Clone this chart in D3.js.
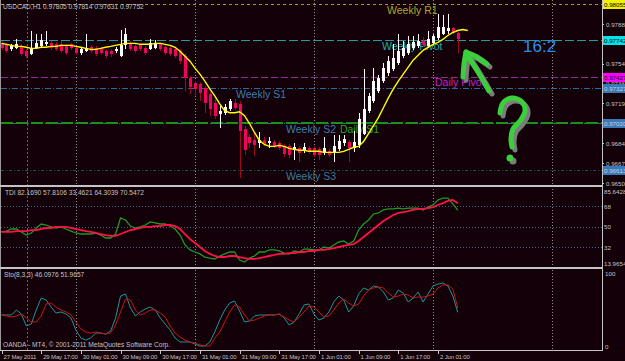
<!DOCTYPE html>
<html><head><meta charset="utf-8">
<script src="https://cdn.jsdelivr.net/npm/d3@7"></script>
<style>html,body{margin:0;padding:0;background:#130008;}svg{display:block;}text{font-family:"Liberation Sans",Arial,sans-serif;}</style>
</head><body>
<svg id="chart" width="625" height="361"></svg>
<script>
// ---------- DATA ----------
const symbolTitle = "USDCAD,H1  0.97805 0.97814 0.97631 0.97752";
const tdiTitle = "TDI 82.1690 57.8106 33.4621 64.3039 70.5472";
const stoTitle = "Sto(8,3,3) 46.0976 51.9657";
const copyright = "OANDA - MT4, \u00a9 2001-2011 MetaQuotes Software Corp.";

const open = [.97716,.97699,.97664,.97673,.97690,.97647,.97621,.97673,.97690,.97708,
.97716,.97708,.97708,.97690,.97708,.97673,.97630,.97647,.97682,.97673,
.97664,.97647,.97647,.97647,.97604,.97699,.97708,.97690,.97699,.97673,
.97664,.97673,.97708,.97682,.97673,.97664,.97647,.97604,.97414,.97371,
.97363,.97328,.97276,.97199,.97104,.97112,.97147,.97199,.97190,.96974,
.96897,.96871,.96845,.96871,.96845,.96854,.96845,.96819,.96819,.96785,
.96802,.96776,.96802,.96802,.96793,.96759,.96776,.96767,.96793,.96845,
.96854,.96802,.96828,.96931,.97130,.97216,.97302,.97388,.97457,.97492,
.97544,.97604,.97630,.97673,.97690,.97733,.97690,.97716,.97759,.97802,
.97820,.97846,.97805];
const high = [.97733,.97716,.97708,.97751,.97708,.97664,.97820,.97794,.97802,.97820,
.97733,.97725,.97733,.97708,.97716,.97690,.97682,.97794,.97699,.97690,
.97682,.97664,.97664,.97682,.97837,.97846,.97733,.97708,.97716,.97690,
.97751,.97742,.97725,.97699,.97690,.97682,.97664,.97630,.97432,.97388,
.97380,.97345,.97302,.97233,.97173,.97190,.97233,.97233,.97216,.97000,
.96931,.96940,.96940,.96897,.96897,.96871,.96862,.96836,.96836,.96845,
.96819,.96845,.96819,.96819,.96811,.96897,.96793,.96914,.96914,.96914,
.96871,.96957,.97112,.97492,.97285,.97501,.97440,.97544,.97604,.97708,
.97794,.97733,.97777,.97777,.97794,.97768,.97820,.97802,.97975,.97966,
.97975,.97863,.97814];
const low = [.97656,.97630,.97647,.97664,.97604,.97587,.97613,.97664,.97682,.97690,
.97656,.97647,.97630,.97613,.97656,.97613,.97613,.97639,.97630,.97604,
.97613,.97587,.97595,.97630,.97595,.97664,.97647,.97630,.97647,.97613,
.97656,.97664,.97647,.97613,.97604,.97587,.97535,.97302,.97276,.97259,
.97216,.97112,.97087,.97061,.96983,.97095,.97130,.97138,.96543,.96742,
.96802,.96733,.96802,.96819,.96802,.96802,.96785,.96724,.96716,.96698,
.96681,.96759,.96750,.96724,.96698,.96742,.96724,.96681,.96776,.96819,
.96681,.96767,.96802,.96914,.97112,.97199,.97285,.97371,.97432,.97475,
.97526,.97587,.97613,.97656,.97673,.97682,.97673,.97699,.97742,.97785,
.97802,.97794,.97631];
const close = [.97673,.97647,.97690,.97708,.97621,.97604,.97673,.97716,.97742,.97725,
.97673,.97664,.97647,.97630,.97673,.97630,.97664,.97673,.97647,.97621,
.97630,.97604,.97621,.97664,.97699,.97794,.97664,.97647,.97664,.97630,
.97716,.97716,.97664,.97630,.97621,.97604,.97561,.97414,.97337,.97319,
.97285,.97199,.97147,.97087,.97130,.97164,.97216,.97156,.96957,.96785,
.96845,.96828,.96871,.96836,.96862,.96819,.96802,.96750,.96742,.96811,
.96759,.96811,.96767,.96742,.96742,.96802,.96742,.96819,.96862,.96880,
.96802,.96854,.97061,.97147,.97259,.97388,.97414,.97501,.97561,.97587,
.97647,.97673,.97708,.97725,.97733,.97699,.97751,.97777,.97863,.97863,
.97854,.97811,.97752];
// yellow moving average (extends 2 bars beyond last candle)
const maValues = [.97716,.97708,.97699,.97690,.97690,.97682,.97673,.97673,.97682,.97682,
.97690,.97690,.97699,.97699,.97699,.97690,.97682,.97673,.97664,.97664,
.97673,.97682,.97690,.97699,.97708,.97716,.97716,.97716,.97708,.97708,
.97708,.97716,.97716,.97708,.97699,.97682,.97647,.97604,.97561,.97501,
.97449,.97388,.97319,.97259,.97190,.97130,.97112,.97112,.97121,.97087,
.97018,.96940,.96871,.96836,.96819,.96819,.96828,.96819,.96802,.96793,
.96785,.96785,.96776,.96776,.96776,.96767,.96767,.96767,.96767,.96776,
.96793,.96811,.96819,.96862,.96931,.97000,.97069,.97156,.97242,.97319,
.97388,.97449,.97509,.97570,.97613,.97656,.97682,.97708,.97725,.97751,
.97785,.97811,.97828,.97837,.97828];
// pivot levels
const levelNames = ["Weekly R1","Weekly Pivot","Daily Pivot","Weekly S1","Weekly S2","Daily S1","Weekly S3"];
const levelValues = [0.98055,0.97742,0.97427,0.97327,0.97020,0.97020,0.96613];
const priceTicks = ["0.97885","0.97540","0.97365","0.97195","0.96845","0.96670","0.96500"];
// TDI
const tdiGreen = [45.2,46.0,47.8,47.8,45.2,42.5,44.3,48.7,52.2,51.3,
49.6,48.7,49.6,47.8,46.0,44.3,43.4,43.4,43.4,44.3,
42.5,39.9,39.9,43.4,57.5,55.7,50.4,48.7,49.6,51.3,
54.0,53.1,52.2,52.2,50.4,47.8,42.5,33.8,29.4,27.6,
25.9,23.2,22.3,21.5,24.1,25.9,27.6,27.6,20.6,18.8,
22.3,24.1,27.6,27.6,29.4,29.4,28.5,26.7,25.9,28.5,
27.6,30.2,30.2,29.4,29.4,32.0,31.1,33.8,36.4,37.3,
34.6,37.3,46.9,52.2,55.7,61.0,61.9,64.5,65.4,65.4,
66.2,65.4,66.2,66.2,66.2,64.5,67.1,68.9,73.3,75.0,
75.0,69.8,64.3];
const tdiRed = [45.2,45.2,45.2,46.0,46.0,46.0,46.9,46.9,47.8,48.7,
48.7,49.6,49.6,49.6,48.7,47.8,46.9,46.0,45.2,44.3,
43.4,42.5,41.7,41.7,43.4,45.2,46.9,47.8,48.7,49.6,
49.6,50.4,50.4,51.3,51.3,50.4,47.8,43.4,39.0,35.5,
32.0,28.5,25.9,24.1,23.2,23.2,24.1,24.1,23.2,22.3,
21.5,21.5,22.3,23.2,24.1,25.0,25.9,25.9,26.7,26.7,
27.6,27.6,28.5,28.5,29.4,29.4,30.2,31.1,32.0,32.9,
33.8,34.6,37.3,40.8,44.3,47.8,51.3,54.8,57.5,60.1,
61.9,62.7,63.6,64.5,65.4,65.4,66.2,67.1,68.9,70.6,
72.4,73.3,70.5];
const tdiLevels = [68,50,32];
const tdiRange = ["85.6428","13.9654"];
// Stochastic
const stoMain = [42.5,42.5,42.5,49.3,43.8,27.4,30.1,49.3,65.8,63.0,
53.4,45.2,46.6,43.8,38.4,21.9,11.0,8.2,11.0,17.8,
17.8,16.4,20.5,38.4,68.5,71.2,52.1,41.1,46.6,50.7,
53.4,49.3,38.4,30.1,21.9,11.0,5.5,5.5,5.5,2.7,
0.0,0.0,5.5,19.2,35.6,49.3,58.9,61.6,47.9,32.9,
34.2,41.1,42.5,42.5,42.5,42.5,43.8,38.4,28.8,32.9,
43.8,56.2,57.5,43.8,35.6,38.4,46.6,60.3,68.5,63.0,
46.6,54.8,71.2,79.5,76.7,82.2,80.8,74.0,63.0,65.8,
76.7,72.6,60.3,65.8,74.0,60.3,71.2,82.2,84.9,86.3,
82.2,68.5,46.1];
const stoSignal = [42.5,41.1,39.7,41.1,43.8,38.4,32.9,32.9,41.1,57.5,
58.9,53.4,49.3,46.6,42.5,32.9,23.3,19.2,17.8,19.2,
17.8,16.4,17.8,28.8,46.6,64.4,63.0,49.3,42.5,45.2,
49.3,49.3,45.2,39.7,27.4,17.8,12.3,8.2,5.5,4.1,
1.4,0.0,0.0,11.0,19.2,32.9,46.6,56.2,53.4,42.5,
34.2,35.6,38.4,41.1,42.5,42.5,43.8,39.7,35.6,32.9,
39.7,46.6,54.8,53.4,46.6,39.7,41.1,49.3,58.9,64.4,
58.9,54.8,57.5,68.5,76.7,79.5,80.8,79.5,72.6,67.1,
68.5,71.2,69.9,65.8,67.1,67.1,68.5,71.2,79.5,83.6,
83.6,78.1,52.0];
const stoRange = ["100","0"];
// time axis
const timeTickIndex = [0,8,16,24,32,40,48,56,64,72,80,88];
const timeTickLabels = ["27 May 2011","29 May 17:00","30 May 01:00","30 May 09:00","30 May 17:00","31 May 01:00","31 May 09:00","31 May 17:00","1 Jun 01:00","1 Jun 09:00","1 Jun 17:00","2 Jun 01:00"];
const gridIndex = [15,39,63,87,111];
const separatorIndex = [5.2];
const annotationText = "16:2";

// ---------- LAYOUT ----------
const W = 625, H = 361, plotRight = 602;
const BG = "#130008", AXIS = "#c4c4c4";
const svg = d3.select("#chart");
svg.append("rect").attr("width", W).attr("height", H).attr("fill", BG);

const x = d3.scaleLinear().domain([0, 92]).range([1.5, 457.8]);
const yMain = d3.scaleLinear().domain([0.965, 0.965 + 183 / 11480]).range([183, 0]);
const yTdi = d3.scaleLinear().domain([32, 68]).range([247, 206]);
const ySto = d3.scaleLinear().domain([0, 100]).range([346, 273]);

const defs = svg.append("defs");
const clip = (id, y0, h) => defs.append("clipPath").attr("id", id).append("rect").attr("x", 1).attr("y", y0).attr("width", plotRight - 1).attr("height", h);
clip("cMain", 0, 184); clip("cTdi", 187, 80); clip("cSto", 269, 81);

// vertical grid
const grid = svg.append("g").attr("shape-rendering", "crispEdges");
grid.selectAll(".vg").data(gridIndex).join("line")
  .attr("x1", d => Math.round(x(d)) + 0.5).attr("x2", d => Math.round(x(d)) + 0.5)
  .attr("y1", 0).attr("y2", 350).attr("stroke", "#8e8e8e").attr("stroke-dasharray", "1,2");
grid.selectAll(".sep").data(separatorIndex).join("line")
  .attr("x1", d => Math.round(x(d)) + 0.5).attr("x2", d => Math.round(x(d)) + 0.5)
  .attr("y1", 0).attr("y2", 350).attr("stroke", "#4f704f").attr("stroke-dasharray", "2,2");

// ---------- MAIN PANEL ----------
const main = svg.append("g").attr("clip-path", "url(#cMain)");
const levelStyle = [
  {c: "#9c9c2c", t: "#a8a830", d: "3,3", w: 1, lx: 387},
  {c: "#1e9e9e", t: "#22abab", d: "9,3", w: 1, lx: 382},
  {c: "#952895", t: "#c424c4", d: "7,3", w: 1, lx: 435},
  {c: "#2a6c9c", t: "#3d7cab", d: "6,2,1,2", w: 1, lx: 236},
  {c: "#2a6c9c", t: "#3d7cab", d: "6,2,1,2", w: 1, lx: 286},
  {c: "#1a921a", t: "#22a822", d: "12,3", w: 2, lx: 340},
  {c: "#1d5656", t: "#3d7a9b", d: "3,2,1,2", w: 1, lx: 286}
];
const lv = levelValues.map((v, i) => ({v, name: levelNames[i], s: levelStyle[i]}));
main.selectAll(".lvl").data(lv).join("line")
  .attr("x1", 1).attr("x2", plotRight)
  .attr("y1", d => Math.round(yMain(d.v)) + (d.s.w === 2 ? 0 : 0.5))
  .attr("y2", d => Math.round(yMain(d.v)) + (d.s.w === 2 ? 0 : 0.5))
  .attr("stroke", d => d.s.c).attr("stroke-width", d => d.s.w).attr("stroke-dasharray", d => d.s.d)
  .attr("shape-rendering", "crispEdges");
main.selectAll(".lvlt").data(lv).join("text")
  .attr("x", d => d.s.lx).attr("y", d => yMain(d.v) + 9.5)
  .attr("fill", d => d.s.t).attr("font-size", 10.5).text(d => d.name);

// candles
const bars = d3.range(open.length).map(i => ({i, o: open[i], h: high[i], l: low[i], c: close[i], bull: close[i] >= open[i]}));
main.append("g").attr("shape-rendering", "crispEdges").selectAll("line").data(bars).join("line")
  .attr("x1", d => Math.round(x(d.i)) + 0.5).attr("x2", d => Math.round(x(d.i)) + 0.5)
  .attr("y1", d => yMain(d.h)).attr("y2", d => yMain(d.l))
  .attr("stroke", d => d.bull ? "#ffffff" : "#9c0a22");
main.append("g").attr("shape-rendering", "crispEdges").selectAll("rect").data(bars).join("rect")
  .attr("x", d => Math.round(x(d.i)) - 1).attr("width", 3)
  .attr("y", d => Math.round(yMain(Math.max(d.o, d.c))))
  .attr("height", d => Math.max(1, Math.round(yMain(Math.min(d.o, d.c))) - Math.round(yMain(Math.max(d.o, d.c)))))
  .attr("fill", d => d.bull ? "#ffffff" : "#f5005f");
// MA
main.append("path").datum(maValues)
  .attr("d", d3.line().x((d, i) => x(i)).y(d => yMain(d)))
  .attr("fill", "none").attr("stroke", "#ffff00").attr("stroke-width", 1.4);

// ---------- TDI PANEL ----------
const tdi = svg.append("g").attr("clip-path", "url(#cTdi)");
tdi.selectAll(".tl").data(tdiLevels).join("line")
  .attr("x1", 1).attr("x2", plotRight).attr("y1", d => Math.round(yTdi(d)) + 0.5).attr("y2", d => Math.round(yTdi(d)) + 0.5)
  .attr("stroke", "#3a6484").attr("stroke-dasharray", "1,2").attr("shape-rendering", "crispEdges");
tdi.append("path").datum(tdiGreen).attr("d", d3.line().x((d, i) => x(i)).y(d => yTdi(d)))
  .attr("fill", "none").attr("stroke", "#1f9a1f").attr("stroke-width", 1.3);
tdi.append("path").datum(tdiRed).attr("d", d3.line().x((d, i) => x(i)).y(d => yTdi(d)))
  .attr("fill", "none").attr("stroke", "#ff1046").attr("stroke-width", 1.8);

// ---------- STOCH PANEL ----------
const sto = svg.append("g").attr("clip-path", "url(#cSto)");
sto.append("path").datum(stoMain).attr("d", d3.line().x((d, i) => x(i)).y(d => ySto(d)))
  .attr("fill", "none").attr("stroke", "#1c9696").attr("stroke-width", 1);
sto.append("path").datum(stoSignal).attr("d", d3.line().x((d, i) => x(i)).y(d => ySto(d)))
  .attr("fill", "none").attr("stroke", "#c81414").attr("stroke-width", 1);

// ---------- FRAME ----------
const frame = svg.append("g").attr("shape-rendering", "crispEdges");
frame.append("line").attr("x1", 0.5).attr("x2", 0.5).attr("y1", 0).attr("y2", 350).attr("stroke", "#9a9a9a");
frame.append("line").attr("x1", plotRight + 0.5).attr("x2", plotRight + 0.5).attr("y1", 0).attr("y2", 351).attr("stroke", AXIS);
frame.append("rect").attr("x", 0).attr("y", 184.5).attr("width", plotRight + 1).attr("height", 2).attr("fill", AXIS);
frame.append("rect").attr("x", 0).attr("y", 266.5).attr("width", plotRight + 1).attr("height", 2).attr("fill", AXIS);
frame.append("line").attr("x1", 0).attr("x2", plotRight + 1).attr("y1", 350.5).attr("y2", 350.5).attr("stroke", AXIS);

// ---------- TEXTS ----------
const fs = 6.6;
svg.append("text").attr("x", 3).attr("y", 9).attr("fill", AXIS).attr("font-size", fs).text(symbolTitle);
svg.append("text").attr("x", 5).attr("y", 195).attr("fill", AXIS).attr("font-size", fs).text(tdiTitle);
svg.append("text").attr("x", 4).attr("y", 277).attr("fill", AXIS).attr("font-size", fs).text(stoTitle);
svg.append("text").attr("x", 3).attr("y", 347).attr("fill", AXIS).attr("font-size", fs).text(copyright);

// right price axis
const ax = svg.append("g");
ax.selectAll(".pt").data(priceTicks).join("text")
  .attr("x", 606).attr("y", d => yMain(+d) + 2.5).attr("fill", AXIS).attr("font-size", 6.2).text(d => d);
ax.selectAll(".ptm").data(priceTicks).join("rect")
  .attr("x", 603).attr("y", d => Math.round(yMain(+d))).attr("width", 1).attr("height", 1).attr("fill", AXIS);
const boxColors = ["#f0f000", "#00e4e4", "#ff00ff", "#3a78b8", null, "#3a78b8", "#3a78b8"];
const boxText = ["#000000", "#000000", "#000000", "#c8d4e0", null, "#c8d4e0", "#c8d4e0"];
const boxes = lv.map((d, i) => ({...d, bg: boxColors[i], fg: boxText[i]})).filter(d => d.bg);
ax.selectAll(".bx").data(boxes).join("rect")
  .attr("x", 603).attr("y", d => Math.round(yMain(d.v)) - 4).attr("width", 22).attr("height", 9).attr("fill", d => d.bg);
ax.selectAll(".bxt").data(boxes).join("text")
  .attr("x", 604).attr("y", d => Math.round(yMain(d.v)) + 3).attr("fill", d => d.fg).attr("font-size", 6.2)
  .text(d => d.v.toFixed(5));

// TDI axis
const tdiLab = [{t: tdiRange[0], y: 191}, ...tdiLevels.map(v => ({t: String(v), y: yTdi(v)})), {t: tdiRange[1], y: 263}];
ax.selectAll(".tdl").data(tdiLab).join("text")
  .attr("x", 604).attr("y", d => d.y + 2.5).attr("fill", AXIS).attr("font-size", 6.2).text(d => d.t);
const stoLab = [{t: stoRange[0], y: ySto(100)}, {t: stoRange[1], y: ySto(0)}];
ax.selectAll(".stl").data(stoLab).join("text")
  .attr("x", 605).attr("y", d => d.y + 2.5).attr("fill", AXIS).attr("font-size", 6.2).text(d => d.t);

// time axis
const tx = svg.append("g");
tx.selectAll("line").data(timeTickIndex).join("line")
  .attr("x1", d => Math.round(x(d)) + 0.5).attr("x2", d => Math.round(x(d)) + 0.5)
  .attr("y1", 350).attr("y2", 354).attr("stroke", AXIS).attr("shape-rendering", "crispEdges");
tx.selectAll("text").data(timeTickIndex).join("text")
  .attr("x", d => x(d) + 2).attr("y", 359).attr("fill", AXIS).attr("font-size", 6)
  .attr("letter-spacing", -0.15)
  .text((d, i) => timeTickLabels[i]);

// ---------- HAND-DRAWN ANNOTATIONS ----------
const ann = svg.append("g").attr("fill", "none").attr("stroke-linecap", "round").attr("stroke-linejoin", "round");
const curve = d3.line().curve(d3.curveCatmullRom);
const arrowParts = [
  [[463, 77], [464, 64], [466, 52]],
  [[466, 52], [477, 57], [487, 64]],
  [[467, 55], [478, 72], [489, 91]]
];
const qmark = [[500, 113], [503, 103], [512, 98], [522, 102], [525, 111], [520, 121], [513, 129], [511, 139], [512, 147]];
[[3, 3, "#7c7c7c"], [0, 0, "#3ccf3c"]].forEach(([dx, dy, col]) => {
  const gg = ann.append("g").attr("transform", `translate(${dx},${dy})`).attr("stroke", col).attr("stroke-width", 5);
  arrowParts.forEach(p => gg.append("path").attr("d", curve(p)));
  gg.append("path").attr("d", curve(qmark));
  gg.append("circle").attr("cx", 510).attr("cy", 158).attr("r", 2.5).attr("fill", col).attr("stroke-width", 2);
});
svg.append("text").attr("x", 523).attr("y", 52).attr("fill", "#2a8ff0").attr("font-size", 17).text(annotationText);
</script>
</body></html>
